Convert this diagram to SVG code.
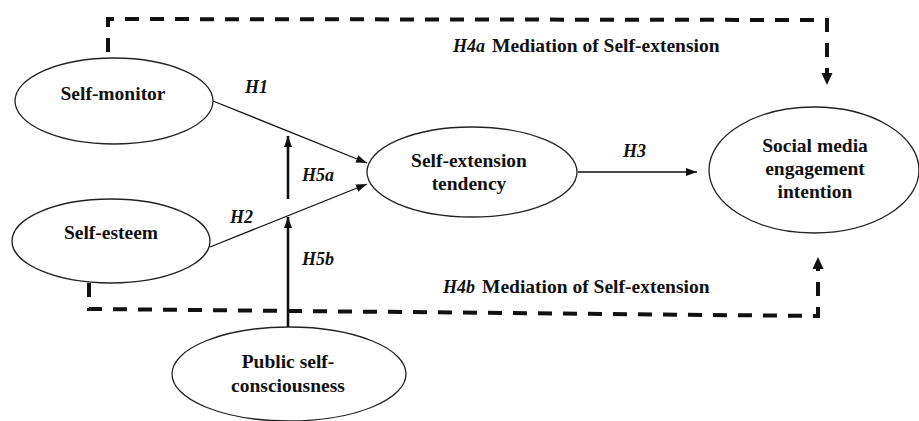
<svg xmlns="http://www.w3.org/2000/svg" width="919" height="421" viewBox="0 0 919 421">
<defs>
<style>
.node ellipse{fill:#fff;stroke:#222;stroke-width:1.3}
text{font-family:'Liberation Serif','DejaVu Serif','Times New Roman',serif;font-weight:bold;fill:#111}
.lbl{font-size:19.5px;text-anchor:middle}
.h{font-style:italic;font-size:18px}
.med{font-size:19.5px}
.thin{fill:none;stroke:#111;stroke-width:1.3}
.thick{fill:none;stroke:#111;stroke-width:2.6}
.dash{fill:none;stroke:#111;stroke-width:4;stroke-dasharray:14 11}
</style>
<marker id="ah" markerUnits="userSpaceOnUse" markerWidth="12" markerHeight="10" refX="11" refY="5" orient="auto">
<path d="M0,1 L11,5 L0,9 Z" fill="#111"/>
</marker>
<marker id="ahd" markerUnits="userSpaceOnUse" markerWidth="13" markerHeight="12" refX="1" refY="6" orient="auto">
<path d="M0,0.5 L12,6 L0,11.5 Z" fill="#111"/>
</marker>
</defs>
<rect width="919" height="421" fill="#fff"/>
<g id="connectors">
<path class="dash" d="M108,52 L108,19 L827,20 L827,74" marker-end="url(#ahd)"/>
<path class="dash" d="M89,283 L89,309 L818,316 L818,268" marker-end="url(#ahd)"/>
<path class="thin" d="M213,101 L367,163" marker-end="url(#ah)"/>
<path class="thin" d="M210,247 L367,184" marker-end="url(#ah)"/>
<path class="thin" d="M578,172 L697,172" marker-end="url(#ah)"/>
<path class="thick" d="M288,199 L288,136" marker-end="url(#ah)"/>
<path class="thick" d="M288,327 L288,217" marker-end="url(#ah)"/>
<text class="h" x="245" y="93" font-family="Liberation Serif, serif">H1</text>
<text class="h" x="230" y="223" font-family="Liberation Serif, serif">H2</text>
<text class="h" x="302" y="181" font-family="Liberation Serif, serif">H5a</text>
<text class="h" x="302" y="265" font-family="Liberation Serif, serif">H5b</text>
<text class="h" x="623" y="157" font-family="Liberation Serif, serif">H3</text>
<text y="52" font-family="Liberation Serif, serif"><tspan class="h" x="453">H4a</tspan><tspan class="med" x="492" font-style="normal">Mediation of Self-extension</tspan></text>
<text y="293" font-family="Liberation Serif, serif"><tspan class="h" x="443">H4b</tspan><tspan class="med" x="482" font-style="normal">Mediation of Self-extension</tspan></text>
</g>
<g id="self-monitor" class="node">
<ellipse cx="114" cy="101" rx="99" ry="43"/>
<text class="lbl" x="113" y="100">Self-monitor</text>
</g>
<g id="self-esteem" class="node">
<ellipse cx="111" cy="241" rx="99" ry="42"/>
<text class="lbl" x="111" y="239">Self-esteem</text>
</g>
<g id="self-extension" class="node">
<ellipse cx="472" cy="172" rx="105" ry="45"/>
<text class="lbl" x="469" y="167">Self-extension</text>
<text class="lbl" x="469" y="190">tendency</text>
</g>
<g id="engagement" class="node">
<ellipse cx="814" cy="170" rx="105" ry="63"/>
<text class="lbl" x="815" y="152">Social media</text>
<text class="lbl" x="815" y="175">engagement</text>
<text class="lbl" x="815" y="198">intention</text>
</g>
<g id="public" class="node">
<ellipse cx="289" cy="374" rx="117" ry="47"/>
<text class="lbl" x="288" y="368">Public self-</text>
<text class="lbl" x="288" y="392">consciousness</text>
</g>
</svg>
